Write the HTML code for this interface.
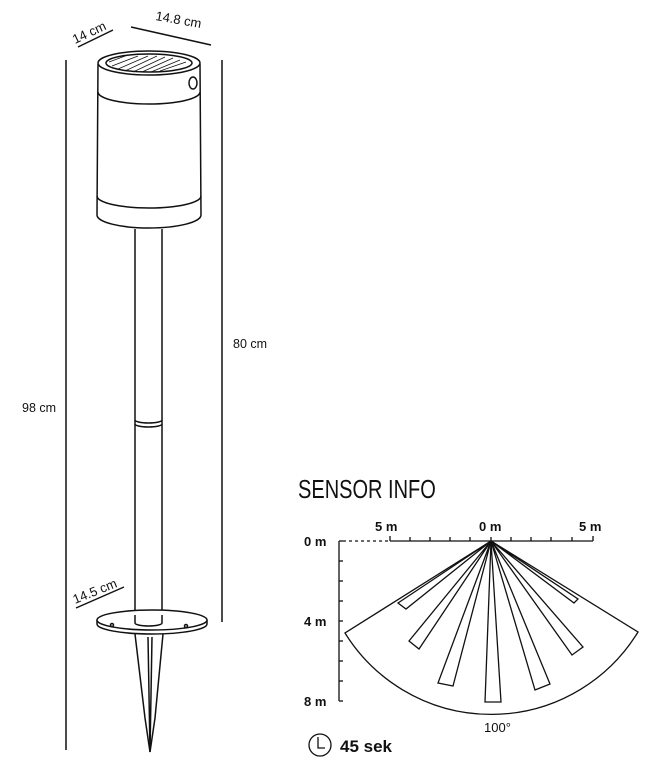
<!DOCTYPE html>
<html><head><meta charset="utf-8"><style>
html,body{margin:0;padding:0;background:#fff;width:646px;height:768px;overflow:hidden}
svg{display:block}
text{font-family:"Liberation Sans",sans-serif;fill:#111}
</style></head><body>
<svg width="646" height="768" viewBox="0 0 646 768" fill="none" stroke="#111" stroke-width="1.5">
<!-- dimension lines -->
<line x1="66" y1="60" x2="66" y2="750"/>
<line x1="222" y1="60" x2="222" y2="622"/>
<line x1="78" y1="47" x2="113" y2="30"/>
<line x1="131" y1="27" x2="211" y2="45"/>
<line x1="76" y1="608" x2="124" y2="587"/>
<text x="22" y="412" font-size="12.5" stroke="none">98 cm</text>
<text x="233" y="348" font-size="12.5" stroke="none">80 cm</text>
<text x="0" y="0" font-size="13" stroke="none" transform="translate(75,44) rotate(-25)">14 cm</text>
<text x="0" y="0" font-size="13" stroke="none" transform="translate(155,20) rotate(10)">14.8 cm</text>
<text x="0" y="0" font-size="13" stroke="none" transform="translate(75,604) rotate(-22)">14.5 cm</text>
<!-- lamp head -->
<path d="M98 64 L97 215 A52 13 0 0 0 201 215 L200 64" fill="#fff"/>
<ellipse cx="149" cy="63" rx="51" ry="12" fill="#fff"/>
<ellipse cx="149" cy="63" rx="43" ry="9"/>
<g stroke-width="0.8">
<line x1="112" y1="66" x2="138" y2="56"/><line x1="118" y1="69" x2="148" y2="56"/>
<line x1="125" y1="71" x2="157" y2="56"/><line x1="133" y1="72" x2="165" y2="57"/>
<line x1="142" y1="72" x2="173" y2="58"/><line x1="151" y1="72" x2="180" y2="60"/>
<line x1="160" y1="71" x2="186" y2="62"/><line x1="109" y1="62" x2="128" y2="55"/>
</g>
<ellipse cx="193" cy="83" rx="4" ry="6"/>
<path d="M98 92 A51 12 0 0 0 200 92"/>
<path d="M97 196 A52 12 0 0 0 201 196"/>
<!-- pole -->
<path d="M135 229 L135 620 M162 229 L162 620"/>
<path d="M135 420 A13.5 3 0 0 0 162 420 M135 424 A13.5 3 0 0 0 162 424"/>
<!-- base -->
<path d="M97 620 L97 624 A55 10 0 0 0 207 624 L207 620"/>
<ellipse cx="152" cy="620" rx="55" ry="10" fill="#fff"/>
<path d="M135 615 L135 623 A13.5 3 0 0 0 162 623 L162 615" fill="#fff"/>
<circle cx="112" cy="625" r="1.5"/><circle cx="186" cy="626" r="1.5"/>
<path d="M135 634 L145 718 L150 752 L155 718 L163 634"/>
<path d="M148 637 L150 752 L152 637"/>
<!-- sensor -->
<text x="0" y="0" font-size="26" stroke="none" transform="translate(298,498) scale(0.77,1)">SENSOR INFO</text>
<g stroke-width="1.3">
<line x1="339" y1="541" x2="339" y2="701"/>
<line x1="339" y1="541" x2="343" y2="541"/><line x1="339" y1="561" x2="343" y2="561"/><line x1="339" y1="581" x2="343" y2="581"/>
<line x1="339" y1="601" x2="343" y2="601"/><line x1="339" y1="621" x2="343" y2="621"/><line x1="339" y1="641" x2="343" y2="641"/>
<line x1="339" y1="661" x2="343" y2="661"/><line x1="339" y1="681" x2="343" y2="681"/><line x1="339" y1="701" x2="343" y2="701"/>
<line x1="343" y1="541" x2="390" y2="541" stroke-dasharray="3 3"/>
<line x1="390" y1="541" x2="593" y2="541"/>
<path d="M390 536V541 M410 537V541 M430 537V541 M450 537V541 M470 537V541 M491 537V541 M511 537V541 M531 537V541 M551 537V541 M572 537V541 M593 536V541"/>
<path d="M491 541 L345 633 A172 172 0 0 0 638 632 Z"/>
<path d="M491 541 L398 603 L406 609 Z"/>
<path d="M491 541 L409 641 L419 649 Z"/>
<path d="M491 541 L438 683 L453 686 Z"/>
<path d="M491 541 L485 702 L501 702 Z"/>
<path d="M491 541 L535 690 L550 684 Z"/>
<path d="M491 541 L572 655 L583 647 Z"/>
<path d="M491 541 L574 603 L578 599 Z"/>
<circle cx="320" cy="745" r="11"/>
<path d="M318 737 V748 H325"/>
</g>
<g font-size="13" font-weight="bold" stroke="none">
<text x="304" y="546">0 m</text><text x="304" y="626">4 m</text><text x="304" y="706">8 m</text>
<text x="375" y="531">5 m</text><text x="479" y="531">0 m</text><text x="579" y="531">5 m</text>
<text x="484" y="732" font-weight="normal">100°</text>
</g>
<text x="340" y="752" font-size="17" font-weight="bold" stroke="none">45 sek</text>
</svg>
</body></html>
